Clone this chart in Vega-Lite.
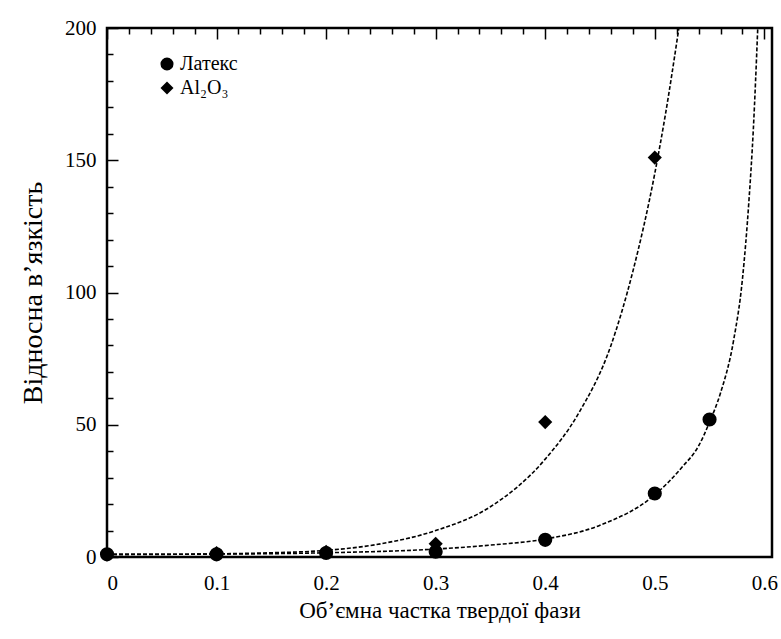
{
  "$schema": "https://vega.github.io/schema/vega-lite/v6.json",
  "width": 665,
  "height": 529,
  "autosize": {"type": "none"},
  "padding": {"left": 107, "top": 28, "right": 9, "bottom": 82},
  "background": "white",
  "config": {
    "view": {"stroke": "black", "strokeWidth": 2.5},
    "font": "Liberation Serif",
    "axis": {
      "grid": true,
      "gridColor": "black",
      "gridWidth": 1.5,
      "gridOpacity": 1,
      "domain": false,
      "ticks": false,
      "labelColor": "black",
      "labelFont": "Liberation Serif",
      "labelFontSize": 21,
      "titleFont": "Liberation Serif",
      "titleFontWeight": "normal",
      "titleColor": "black",
      "labelOverlap": false
    }
  },
  "datasets": {
    "points": [
      {"phi": 0.0, "eta": 1.0, "series": "Латекс"},
      {"phi": 0.1, "eta": 1.0, "series": "Латекс"},
      {"phi": 0.2, "eta": 1.5, "series": "Латекс"},
      {"phi": 0.3, "eta": 2.0, "series": "Латекс"},
      {"phi": 0.4, "eta": 6.5, "series": "Латекс"},
      {"phi": 0.5, "eta": 24, "series": "Латекс"},
      {"phi": 0.55, "eta": 52, "series": "Латекс"},
      {"phi": 0.0, "eta": 1.0, "series": "Al₂O₃"},
      {"phi": 0.1, "eta": 1.5, "series": "Al₂O₃"},
      {"phi": 0.2, "eta": 2.0, "series": "Al₂O₃"},
      {"phi": 0.3, "eta": 5.0, "series": "Al₂O₃"},
      {"phi": 0.4, "eta": 51, "series": "Al₂O₃"},
      {"phi": 0.5, "eta": 151, "series": "Al₂O₃"}
    ],
    "curves": [
      {"phi": 0.0, "eta": 1.0, "fit": "latex"},
      {"phi": 0.1, "eta": 1.1, "fit": "latex"},
      {"phi": 0.2, "eta": 1.6, "fit": "latex"},
      {"phi": 0.3, "eta": 3.0, "fit": "latex"},
      {"phi": 0.35, "eta": 4.5, "fit": "latex"},
      {"phi": 0.4, "eta": 6.8, "fit": "latex"},
      {"phi": 0.45, "eta": 12, "fit": "latex"},
      {"phi": 0.5, "eta": 23.5, "fit": "latex"},
      {"phi": 0.525, "eta": 34, "fit": "latex"},
      {"phi": 0.54, "eta": 42, "fit": "latex"},
      {"phi": 0.55, "eta": 51, "fit": "latex"},
      {"phi": 0.56, "eta": 62, "fit": "latex"},
      {"phi": 0.572, "eta": 82, "fit": "latex"},
      {"phi": 0.58, "eta": 105, "fit": "latex"},
      {"phi": 0.586, "eta": 135, "fit": "latex"},
      {"phi": 0.59, "eta": 162, "fit": "latex"},
      {"phi": 0.594, "eta": 200, "fit": "latex"},
      {"phi": 0.0, "eta": 1.0, "fit": "alumina"},
      {"phi": 0.05, "eta": 1.0, "fit": "alumina"},
      {"phi": 0.1, "eta": 1.2, "fit": "alumina"},
      {"phi": 0.15, "eta": 1.6, "fit": "alumina"},
      {"phi": 0.2, "eta": 2.5, "fit": "alumina"},
      {"phi": 0.25, "eta": 5, "fit": "alumina"},
      {"phi": 0.3, "eta": 10, "fit": "alumina"},
      {"phi": 0.35, "eta": 19, "fit": "alumina"},
      {"phi": 0.4, "eta": 37, "fit": "alumina"},
      {"phi": 0.43, "eta": 54, "fit": "alumina"},
      {"phi": 0.46, "eta": 80, "fit": "alumina"},
      {"phi": 0.48, "eta": 108, "fit": "alumina"},
      {"phi": 0.5, "eta": 145, "fit": "alumina"},
      {"phi": 0.51, "eta": 168, "fit": "alumina"},
      {"phi": 0.522, "eta": 200, "fit": "alumina"}
    ]
  },
  "encoding": {
    "x": {
      "field": "phi",
      "type": "quantitative",
      "scale": {"domain": [0, 0.607], "nice": false},
      "axis": {
        "title": "Об’ємна частка твердої фази",
        "titleFontSize": 23,
        "values": [0, 0.02, 0.04, 0.06, 0.08, 0.1, 0.12, 0.14, 0.16, 0.18, 0.2, 0.22, 0.24, 0.26, 0.28, 0.3, 0.32, 0.34, 0.36, 0.38, 0.4, 0.42, 0.44, 0.46, 0.48, 0.5, 0.52, 0.54, 0.56, 0.58, 0.6],
        "format": ".1~f",
        "labelExpr": "abs(datum.value * 10 - round(datum.value * 10)) < 0.001 ? datum.label : ''",
        "gridDash": {"condition": {"test": "abs(datum.value * 10 - round(datum.value * 10)) < 0.001", "value": [11, 2000]}, "value": [6, 2000]},
        "labelPadding": 15,
        "titlePadding": 6
      }
    },
    "y": {
      "field": "eta",
      "type": "quantitative",
      "scale": {"domain": [0, 200], "nice": false},
      "axis": {
        "title": "Відносна в’язкість",
        "titleFontSize": 28,
        "values": [0, 10, 20, 30, 40, 50, 60, 70, 80, 90, 100, 110, 120, 130, 140, 150, 160, 170, 180, 190, 200],
        "labelExpr": "datum.value % 50 == 0 ? datum.label : ''",
        "gridDash": {"condition": {"test": "datum.value % 50 == 0", "value": [11, 2000]}, "value": [6, 2000]},
        "labelPadding": 11,
        "titlePadding": 17
      }
    }
  },
  "layer": [
    {
      "data": {"name": "curves"},
      "mark": {"type": "line", "color": "black", "strokeWidth": 1.6, "strokeDash": [4, 2], "clip": true, "interpolate": "monotone"},
      "encoding": {"detail": {"field": "fit"}}
    },
    {
      "data": {"name": "points"},
      "mark": {"type": "point", "filled": true, "color": "black", "opacity": 1},
      "encoding": {
        "shape": {
          "field": "series",
          "type": "nominal",
          "scale": {"domain": ["Латекс", "Al₂O₃"], "range": ["circle", "diamond"]},
          "legend": {
            "title": null,
            "orient": "none",
            "legendX": 50,
            "legendY": 26,
            "padding": 0,
            "symbolFillColor": "black",
            "symbolStrokeColor": "black",
            "symbolSize": 170,
            "labelFontSize": 20,
            "labelFont": "Liberation Serif",
            "labelColor": "black",
            "rowPadding": 4,
            "labelOffset": 3
          }
        },
        "size": {"value": 200}
      }
    }
  ]
}
